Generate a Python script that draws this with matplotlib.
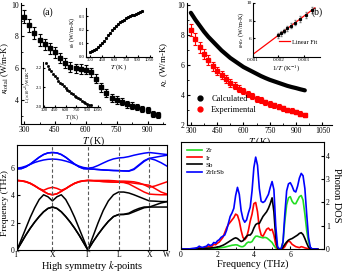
import numpy as np
import matplotlib
matplotlib.use('Agg')
import matplotlib.pyplot as plt
from matplotlib.lines import Line2D
from matplotlib.ticker import MultipleLocator

plt.rcParams['font.family'] = 'Liberation Serif'
plt.rcParams['mathtext.fontset'] = 'stix'
plt.rcParams['font.size'] = 6
plt.rcParams['xtick.direction'] = 'in'
plt.rcParams['ytick.direction'] = 'in'
plt.rcParams['xtick.major.size'] = 2.5
plt.rcParams['ytick.major.size'] = 2.5
plt.rcParams['xtick.minor.size'] = 1.3
plt.rcParams['ytick.minor.size'] = 1.3
plt.rcParams['axes.linewidth'] = 0.8

# ---- (a) total thermal conductivity
T = [300, 325, 350, 375, 400, 425, 450, 475, 500, 525, 550, 575, 600, 625,
     650, 675, 700, 725, 750, 775, 800, 825, 850, 875, 900, 925, 950]
k_total = [9.25, 8.7, 8.2, 7.8, 7.5, 7.25, 7.0, 6.65, 6.35, 6.1, 6.0, 5.95, 5.9, 5.75,
           5.35, 4.8, 4.45, 4.15, 4.0, 3.9, 3.75, 3.65, 3.55, 3.45, 3.35, 3.15, 3.05]
k_total_err = [0.4, 0.4, 0.38, 0.37, 0.36, 0.35, 0.34, 0.33, 0.32, 0.31, 0.3, 0.3, 0.29, 0.28,
               0.27, 0.26, 0.25, 0.24, 0.23, 0.22, 0.22, 0.21, 0.2, 0.2, 0.19, 0.19, 0.18]

# inset: bipolar part
k_b = [0.035, 0.042, 0.05, 0.06, 0.072, 0.086, 0.102, 0.12, 0.14, 0.16, 0.18, 0.198, 0.215, 0.23,
       0.243, 0.255, 0.265, 0.275, 0.283, 0.291, 0.298, 0.305, 0.312, 0.318, 0.325, 0.332, 0.338]

# inset: Lorenz number
lorenz = [2.24, 2.225, 2.21, 2.196, 2.183, 2.17, 2.158, 2.146, 2.135, 2.125, 2.115, 2.105, 2.096, 2.088,
          2.08, 2.072, 2.065, 2.058, 2.051, 2.045, 2.039, 2.033, 2.027, 2.022, 2.017, 2.012, 2.008]

# ---- (b) lattice thermal conductivity
k_calc = [9.45, 9.0, 8.6, 8.2, 7.85, 7.55, 7.25, 6.95, 6.7, 6.45, 6.25, 6.05, 5.85, 5.7,
          5.55, 5.4, 5.25, 5.12, 5.0, 4.9, 4.8, 4.7, 4.6, 4.52, 4.45, 4.37, 4.3]
k_exp = [8.3, 7.7, 7.15, 6.7, 6.3, 5.9, 5.6, 5.3, 5.05, 4.8, 4.6, 4.4, 4.25, 4.05,
         3.9, 3.75, 3.65, 3.5, 3.4, 3.3, 3.2, 3.12, 3.0, 2.95, 2.85, 2.75, 2.65]
k_exp_err = [0.4, 0.38, 0.36, 0.34, 0.32, 0.3, 0.28, 0.27, 0.26, 0.25, 0.24, 0.23, 0.22, 0.21,
             0.2, 0.2, 0.19, 0.18, 0.18, 0.17, 0.17, 0.16, 0.16, 0.15, 0.15, 0.15, 0.14]

# inset (b): kappa - kappa_e vs 1/T
T_fit = [300, 325, 350, 375, 400, 425, 450, 475, 500]
k_diff = [9.2, 8.65, 8.15, 7.75, 7.4, 7.1, 6.8, 6.55, 6.3]
k_diff_err = [0.35, 0.33, 0.32, 0.3, 0.3, 0.28, 0.27, 0.26, 0.25]

# ---- phonon dispersion
kpt_labels = ['Γ', 'X', 'Γ', 'L', 'X', 'W']
kpt_pos = [0.0, 1.0, 2.0, 2.866, 3.732, 4.232]
seg_steps = [8, 8, 6, 6, 3]

acoustic = [
    [0, 0.55, 1.1, 1.6, 2.05, 2.45, 2.8, 3.05, 3.15,
     3.05, 2.8, 2.45, 2.05, 1.6, 1.1, 0.55, 0,
     0.6, 1.15, 1.65, 2.1, 2.45, 2.6,
     2.6, 2.65, 2.8, 2.95, 3.1, 3.15,
     3.15, 3.15, 3.15],
    [0, 0.55, 1.1, 1.6, 2.05, 2.45, 2.8, 3.05, 3.15,
     3.05, 2.8, 2.45, 2.05, 1.6, 1.1, 0.55, 0,
     0.6, 1.15, 1.65, 2.1, 2.45, 2.6,
     2.62, 2.7, 2.9, 3.05, 3.15, 3.15,
     3.3, 3.45, 3.55],
    [0, 0.8, 1.6, 2.4, 3.1, 3.7, 4.05, 3.9, 3.6,
     3.9, 4.05, 3.7, 3.1, 2.4, 1.6, 0.8, 0,
     1.0, 2.0, 2.9, 3.6, 4.05, 4.25,
     4.25, 4.18, 4.05, 3.9, 3.75, 3.6,
     3.58, 3.55, 3.55],
]
optical_low = [
    [5.1, 5.07, 5.0, 4.88, 4.7, 4.5, 4.3, 4.12, 4.05,
     4.12, 4.3, 4.5, 4.7, 4.88, 5.0, 5.07, 5.1,
     5.08, 5.05, 5.02, 5.0, 4.98, 4.97,
     4.95, 4.85, 4.65, 4.45, 4.25, 4.1,
     4.07, 4.05, 4.05],
    [5.1, 5.08, 5.02, 4.9, 4.72, 4.5, 4.38, 4.52, 4.6,
     4.52, 4.38, 4.5, 4.72, 4.9, 5.02, 5.08, 5.1,
     5.1, 5.1, 5.1, 5.1, 5.08, 5.05,
     5.05, 5.03, 5.0, 4.92, 4.78, 4.6,
     4.7, 4.85, 5.0],
    [5.1, 5.07, 5.0, 4.88, 4.7, 4.5, 4.3, 4.12, 4.05,
     4.12, 4.3, 4.5, 4.7, 4.88, 5.0, 5.07, 5.1,
     5.08, 5.05, 5.02, 5.0, 4.98, 4.97,
     4.97, 4.95, 4.9, 4.85, 4.8, 4.75,
     4.5, 4.25, 4.1],
]
optical_high = [
    [5.95, 5.97, 6.1, 6.3, 6.55, 6.8, 7.0, 7.12, 7.15,
     7.12, 7.0, 6.8, 6.55, 6.3, 6.1, 5.97, 5.95,
     5.93, 5.9, 5.87, 5.85, 5.83, 5.82,
     5.8, 5.78, 5.9, 6.2, 6.5, 6.72,
     6.6, 6.4, 6.15],
    [6.0, 6.05, 6.15, 6.28, 6.42, 6.52, 6.6, 6.65, 6.67,
     6.65, 6.6, 6.52, 6.42, 6.28, 6.15, 6.05, 6.0,
     6.05, 6.2, 6.38, 6.55, 6.68, 6.75,
     6.78, 6.85, 6.95, 7.03, 7.1, 7.15,
     7.1, 7.05, 7.0],
    [5.95, 5.97, 6.1, 6.3, 6.55, 6.8, 7.0, 7.12, 7.15,
     7.12, 7.0, 6.8, 6.55, 6.3, 6.1, 5.97, 5.95,
     5.93, 5.9, 5.87, 5.85, 5.83, 5.82,
     5.8, 5.8, 5.95, 6.25, 6.55, 6.72,
     6.8, 6.88, 6.95],
]

# ---- phonon DOS (0.0 to 7.5 THz, step 0.1)
dos_zr = [0, 0, 0, 0, 0, 0, 0, 0, 0, 0,
          0.01, 0.01, 0.01, 0.01, 0.02, 0.02, 0.02, 0.03, 0.03, 0.04,
          0.04, 0.05, 0.06, 0.07, 0.08, 0.1, 0.12, 0.14, 0.16, 0.17,
          0.18, 0.17, 0.13, 0.1, 0.1, 0.15, 0.25, 0.3, 0.28, 0.32,
          0.45, 0.55, 0.55, 0.52, 0.5, 0.48, 0.5, 0.48, 0.42, 0.35,
          0.28, 0.15, 0.05, 0.01, 0, 0.02, 0.3, 1.2, 1.9, 2.2,
          2.25, 2.05, 1.95, 1.95, 2.1, 2.25, 2.3, 2.1, 1.5, 0.8,
          0.3, 0.05, 0, 0, 0, 0]
dos_ir = [0, 0, 0, 0, 0, 0, 0.01, 0.01, 0.02, 0.03,
          0.05, 0.04, 0.05, 0.07, 0.08, 0.12, 0.1, 0.12, 0.2, 0.18,
          0.25, 0.3, 0.4, 0.5, 0.7, 0.9, 1.05, 1.15, 1.25, 1.35,
          1.5, 1.45, 1.2, 0.8, 0.5, 0.4, 0.5, 0.8, 1.2, 1.5,
          1.95, 2.0, 1.6, 0.9, 0.6, 0.55, 0.7, 0.85, 0.9, 0.8,
          0.85, 0.6, 0.2, 0.02, 0, 0, 0.02, 0.1, 0.25, 0.35,
          0.3, 0.2, 0.15, 0.1, 0.08, 0.06, 0.1, 0.08, 0.05, 0.03,
          0.01, 0, 0, 0, 0, 0]
dos_sb = [0, 0, 0, 0, 0, 0, 0, 0, 0.01, 0.01,
          0.02, 0.02, 0.02, 0.03, 0.03, 0.04, 0.04, 0.05, 0.06, 0.07,
          0.09, 0.1, 0.13, 0.16, 0.2, 0.25, 0.3, 0.35, 0.4, 0.45,
          0.48, 0.45, 0.38, 0.32, 0.35, 0.45, 0.55, 0.6, 0.6, 0.7,
          0.9, 1.05, 1.1, 1.1, 1.25, 1.4, 1.5, 1.6, 1.75, 1.95,
          2.2, 1.6, 0.5, 0.05, 0, 0, 0.08, 0.2, 0.3, 0.38,
          0.42, 0.45, 0.5, 0.55, 0.6, 0.67, 0.7, 0.62, 0.45, 0.25,
          0.08, 0.01, 0, 0, 0, 0]
dos_total = [0, 0, 0, 0, 0, 0.01, 0.02, 0.03, 0.04, 0.06,
             0.12, 0.08, 0.07, 0.1, 0.12, 0.2, 0.15, 0.18, 0.28, 0.25,
             0.35, 0.4, 0.5, 0.55, 0.6, 0.8, 1.1, 1.4, 1.55, 1.75,
             2.3, 2.65, 2.35, 1.65, 1.3, 1.15, 1.25, 1.55, 1.8, 2.5,
             3.5, 3.95, 3.6, 2.6, 2.05, 2.0, 2.05, 2.2, 2.35, 2.65,
             2.9, 2.55, 1.0, 0.1, 0, 0.02, 0.3, 1.5, 2.5, 2.8,
             2.85, 2.7, 2.5, 2.45, 2.7, 3.05, 3.25, 3.15, 2.6, 1.5,
             0.5, 0.08, 0, 0, 0, 0]
freq = np.round(np.arange(len(dos_total)) * 0.1, 1)

W, H = 342.0, 272.0


def rect(l, t, r, b):
    return [l / W, 1 - b / H, (r - l) / W, (b - t) / H]


def open_axes(ax):
    ax.spines['top'].set_visible(False)
    ax.spines['right'].set_visible(False)
    ax.tick_params(which='both', top=False, right=False)


fig = plt.figure(figsize=(3.42, 2.72), dpi=100)

# ================= (a)
ax = fig.add_axes(rect(21, 3, 165, 124))
open_axes(ax)
ax.errorbar(T, k_total, yerr=k_total_err, fmt='s', color='k', ms=2.6,
            elinewidth=0.8, capsize=1.3, capthick=0.8)
ax.set_xlim(285, 985)
ax.set_ylim(2.5, 10.1)
ax.xaxis.set_major_locator(MultipleLocator(150))
ax.xaxis.set_minor_locator(MultipleLocator(75))
ax.yaxis.set_major_locator(MultipleLocator(2))
ax.yaxis.set_minor_locator(MultipleLocator(1))
ax.tick_params(labelsize=5.5, pad=1.5)
ax.set_xlabel(r'$T$ (K)', fontsize=7, labelpad=0)
ax.set_ylabel(r'$\kappa_{\rm total}$ (W/m-K)', fontsize=6.3)
ax.yaxis.set_label_coords(-0.07, 0.46)
ax.text(0.15, 0.9, '(a)', transform=ax.transAxes, fontsize=7)

ins = fig.add_axes(rect(86, 8, 152, 57))
ins.patch.set_alpha(0)
open_axes(ins)
ins.errorbar(T, k_b, yerr=0.006, fmt='s', color='k', ms=1.2,
             ecolor='0.6', elinewidth=0.5)
ins.set_xlim(250, 1080)
ins.set_ylim(0, 0.36)
ins.xaxis.set_major_locator(MultipleLocator(150))
ins.yaxis.set_major_locator(MultipleLocator(0.1))
ins.tick_params(labelsize=3.4, pad=1, length=1.5)
ins.set_xlabel(r'$T$ (K)', fontsize=5, labelpad=0)
ins.set_ylabel(r'$\kappa_b$ (W/m-K)', fontsize=4.5, labelpad=1)

ins2 = fig.add_axes(rect(43, 62, 100, 107))
ins2.patch.set_alpha(0)
open_axes(ins2)
ins2.plot(T, lorenz, 's', color='k', ms=1.0)
ins2.set_xlim(285, 1080)
ins2.set_ylim(2.0, 2.23)
ins2.xaxis.set_major_locator(MultipleLocator(150))
ins2.yaxis.set_major_locator(MultipleLocator(0.1))
ins2.tick_params(labelsize=3.5, pad=1, length=1.5)
ins2.set_xlabel(r'$T$ (K)', fontsize=4, labelpad=0)
ins2.set_ylabel(r'L ($\times10^{-8}$) W$\Omega$K$^{-2}$', fontsize=3.3, labelpad=1)

# ================= (b)
bx = fig.add_axes(rect(187, 3, 332, 125))
open_axes(bx)
bx.plot(T, k_calc, '-', color='k', lw=3, solid_capstyle='round')
bx.errorbar(T, k_exp, yerr=k_exp_err, fmt='s', color='red', ms=2.6,
            elinewidth=0.8, capsize=1.3, capthick=0.8)
bx.set_xlim(278, 1105)
bx.set_ylim(2, 10.1)
bx.xaxis.set_major_locator(MultipleLocator(150))
bx.xaxis.set_minor_locator(MultipleLocator(75))
bx.yaxis.set_major_locator(MultipleLocator(2))
bx.yaxis.set_minor_locator(MultipleLocator(1))
bx.tick_params(labelsize=5.5, pad=1.5)
bx.set_xlabel(r'$T$ (K)', fontsize=7, labelpad=0)
bx.set_ylabel(r'$\kappa_L$ (W/m-K)', fontsize=6.5)
bx.yaxis.set_label_coords(-0.115, 0.5)
handles = [Line2D([], [], marker='o', ls='none', color='k', ms=3.5),
           Line2D([], [], marker='o', ls='none', color='red', ms=3.5)]
bx.legend(handles, ['Calculated', 'Experimental'], loc='lower left',
          bbox_to_anchor=(0.0, 0.05), frameon=False, fontsize=6,
          handletextpad=0.3, labelspacing=0.3, borderaxespad=0.2)

bins = fig.add_axes(rect(253, 3, 320, 57))
bins.patch.set_alpha(0)
open_axes(bins)
inv_T = 1.0 / np.array(T_fit)
coef = np.polyfit(inv_T, k_diff, 1)
xline = np.array([0.001, 0.00345])
bins.plot(xline, np.polyval(coef, xline), '-', color='red', lw=0.9, label='Linear Fit')
bins.errorbar(inv_T, k_diff, yerr=k_diff_err, fmt='s', color='k', ms=1.3,
              ecolor='0.5', elinewidth=0.5, capsize=0.8)
bins.set_xlim(0.001, 0.00365)
bins.set_ylim(3.85, 10)
bins.set_xticks([0.001, 0.002, 0.003])
bins.set_xticklabels(['0.001', '0.002', '0.003'])
bins.set_yticks([6, 8, 10])
bins.tick_params(labelsize=3.8, pad=1, length=1.5)
bins.set_xlabel(r'1/$T$ (K$^{-1}$)', fontsize=5, labelpad=0.5)
bins.set_ylabel(r'$\kappa$-$\kappa_e$ (W/m-K)', fontsize=4.5, labelpad=0.5)
bins.legend(loc='center right', bbox_to_anchor=(1.05, 0.28), frameon=False,
            fontsize=4.5, handlelength=1.8, handletextpad=0.4)
bins.text(0.88, 0.78, '(b)', transform=bins.transAxes, fontsize=7)

# ================= dispersion
dx = fig.add_axes(rect(17, 145, 167, 250))
kgrid = [0.0]
for i, n in enumerate(seg_steps):
    seg = np.linspace(kpt_pos[i], kpt_pos[i + 1], n + 1)[1:]
    kgrid.extend(seg)
kgrid = np.array(kgrid)
for br in acoustic:
    dx.plot(kgrid, br, color='k', lw=1.1)
for br in optical_low:
    dx.plot(kgrid, br, color='red', lw=1.1)
for br in optical_high:
    dx.plot(kgrid, br, color='blue', lw=1.1)
for p in kpt_pos[1:-1]:
    dx.axvline(p, color='0.35', ls='--', lw=0.8, dashes=(3, 2))
dx.set_xlim(kpt_pos[0], kpt_pos[-1])
dx.set_ylim(0, 7.7)
dx.set_xticks(kpt_pos)
dx.set_xticklabels(kpt_labels)
dx.set_yticks([0, 2, 4, 6])
dx.tick_params(labelsize=5.5, pad=1.5)
dx.tick_params(axis='x', length=0, pad=1)
dx.set_ylabel('Frequency (THz)', fontsize=6.8)
dx.yaxis.set_label_coords(-0.055, 0.45)
dx.set_xlabel(r'High symmetry $k$-points', fontsize=7.5, labelpad=0)

# ================= DOS
px = fig.add_axes(rect(181, 142, 324, 249))
px.plot(freq, dos_zr, color='#22dd22', lw=1.2, label='Zr')
px.plot(freq, dos_ir, color='red', lw=1.2, label='Ir')
px.plot(freq, dos_sb, color='k', lw=1.2, label='Sb')
px.plot(freq, dos_total, color='blue', lw=1.2, label='ZrIrSb')
px.set_xlim(0, 7.85)
px.set_ylim(0, 4.6)
px.xaxis.set_major_locator(MultipleLocator(2))
px.xaxis.set_minor_locator(MultipleLocator(1))
px.yaxis.set_major_locator(MultipleLocator(1))
px.yaxis.tick_right()
px.yaxis.set_label_position('right')
px.tick_params(labelsize=5.5, pad=1.5)
px.set_xlabel('Frequency (THz)', fontsize=7.5, labelpad=0)
px.set_ylabel('Phonon DOS', fontsize=7.5, rotation=270, labelpad=8)
px.legend(loc='upper left', frameon=False, fontsize=5, handlelength=2.2,
          handletextpad=0.5, labelspacing=0.2, borderaxespad=0.4)

fig.savefig('out.png', dpi=100)
